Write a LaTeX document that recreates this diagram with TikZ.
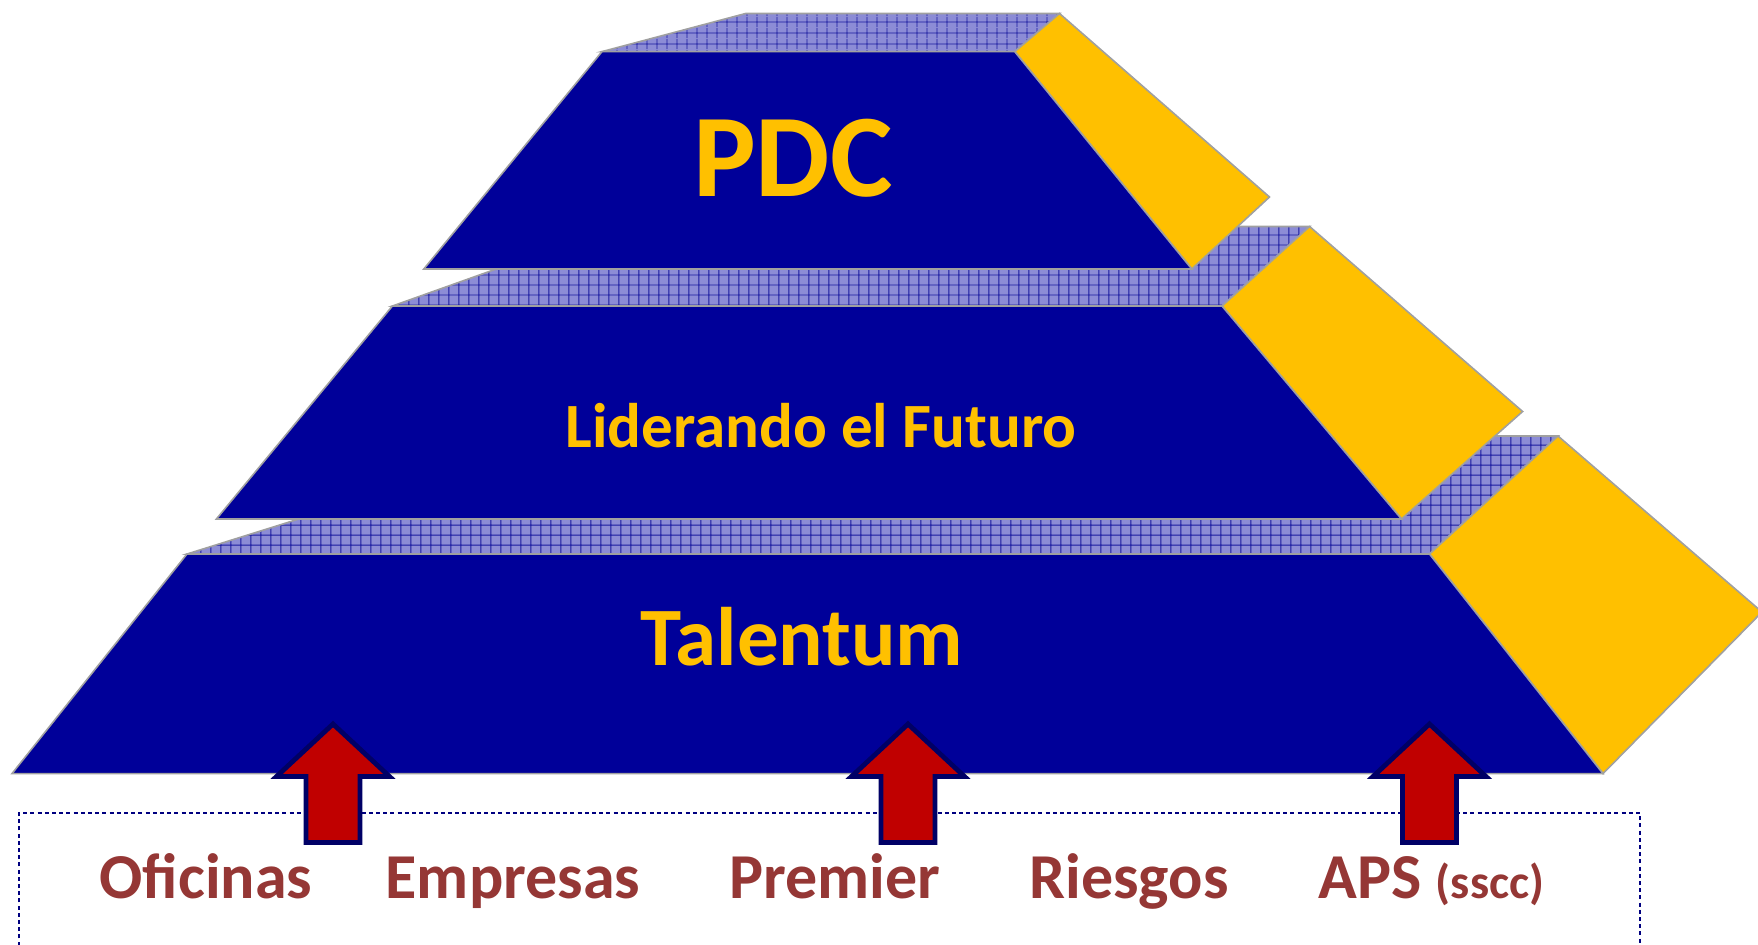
\documentclass[tikz,border=0pt]{standalone}
\usepackage{fontspec}
\setmainfont{Carlito}
\usetikzlibrary{patterns}
\definecolor{tierblue}{HTML}{000099}
\definecolor{tieryellow}{HTML}{FFC000}
\definecolor{hatchbg}{HTML}{8C8CD6}
\definecolor{hatchline}{HTML}{1A1AA0}
\definecolor{edgegray}{HTML}{A0A0A0}
\definecolor{labelred}{HTML}{953735}
\definecolor{arrowred}{HTML}{C00000}
\definecolor{arrowline}{HTML}{000066}
\definecolor{boxline}{HTML}{000080}
\pgfdeclarepatternformonly{tiergrid}{\pgfpointorigin}{\pgfpoint{5.2pt}{5.2pt}}{\pgfpoint{5.2pt}{5.2pt}}{%
  \pgfsetlinewidth{0.45pt}%
  \pgfpathmoveto{\pgfpoint{0pt}{2.6pt}}\pgfpathlineto{\pgfpoint{5.2pt}{2.6pt}}%
  \pgfpathmoveto{\pgfpoint{2.6pt}{0pt}}\pgfpathlineto{\pgfpoint{2.6pt}{5.2pt}}%
  \pgfusepath{stroke}}
\tikzset{
  facebox/.style={draw=edgegray, line width=0.8pt},
  topface/.style={facebox, preaction={fill=hatchbg}, pattern=tiergrid, pattern color=hatchline},
  sideface/.style={facebox, fill=tieryellow},
  frontface/.style={facebox, fill=tierblue},
  uparrow/.style={draw=arrowline, line width=2.4pt, fill=arrowred, miter limit=10},
  tiertext/.style={text=tieryellow, font=\bfseries, inner sep=0pt, anchor=base},
  unitlabel/.style={text=labelred, font=\bfseries\fontsize{32}{38}\selectfont, inner sep=0pt, anchor=base},
  unitbox/.style={draw=boxline, dash pattern=on 2pt off 1.6pt, line width=0.7pt}
}
\begin{document}
\begin{tikzpicture}[x=0.5pt, y=-0.5pt]
\useasboundingbox (0,0) rectangle (1758,944);
% bottom tier
\draw[topface] (187,554) -- (564,436) -- (1558,436) -- (1429.5,554) -- cycle;
\draw[sideface] (1429.5,554) -- (1558,436) -- (1762,612) -- (1603,773.6) -- cycle;
\draw[frontface] (187,554) -- (1429.5,554) -- (1603,773.6) -- (12,773.6) -- cycle;
% middle tier
\draw[topface] (392.4,306) -- (615.5,226.5) -- (1309.6,226.5) -- (1222,306) -- cycle;
\draw[sideface] (1222,306) -- (1309.6,226.5) -- (1522.6,411.5) -- (1401.5,519) -- cycle;
\draw[frontface] (392.4,306) -- (1222,306) -- (1401.5,519) -- (216.4,519) -- cycle;
% top tier
\draw[topface] (602,51.6) -- (745.6,13.5) -- (1059.5,13.5) -- (1014.7,51.6) -- cycle;
\draw[sideface] (1014.7,51.6) -- (1059.5,13.5) -- (1269.5,197) -- (1191.8,269) -- cycle;
\draw[frontface] (602,51.6) -- (1014.7,51.6) -- (1191.8,269) -- (423.8,269) -- cycle;
% tier texts
\node[tiertext, font=\bfseries\fontsize{59}{70}\selectfont] (pdc) at (793,196) {PDC};
\node[tiertext, font=\bfseries\fontsize{31.5}{38}\selectfont] (lider) at (821,447) {Liderando el Futuro};
\node[tiertext, font=\bfseries\fontsize{41.5}{50}\selectfont] (talent) at (802,665) {Talentum};
% dashed unit box
\draw[unitbox] (19,960) -- (19,813) -- (1640,813) -- (1640,960);
% arrows
\foreach \cx/\nm in {333/arrA, 908/arrB, 1429.5/arrC} {
  \draw[uparrow] (\cx,724) -- (\cx+56.5,776.5) -- (\cx+27,776.5) -- (\cx+27,842.5)
     -- (\cx-27,842.5) -- (\cx-27,776.5) -- (\cx-56.5,776.5) -- cycle;
}
% unit labels
\node[unitlabel] (ofi) at (206,898) {Oficinas};
\node[unitlabel] (emp) at (513,898) {Empresas};
\node[unitlabel] (pre) at (835,898) {Premier};
\node[unitlabel] (rie) at (1129,898) {Riesgos};
\node[unitlabel, anchor=base west] (aps) at (1318,898) {APS {\fontsize{24}{28}\selectfont (sscc)}};
\end{tikzpicture}
\end{document}
